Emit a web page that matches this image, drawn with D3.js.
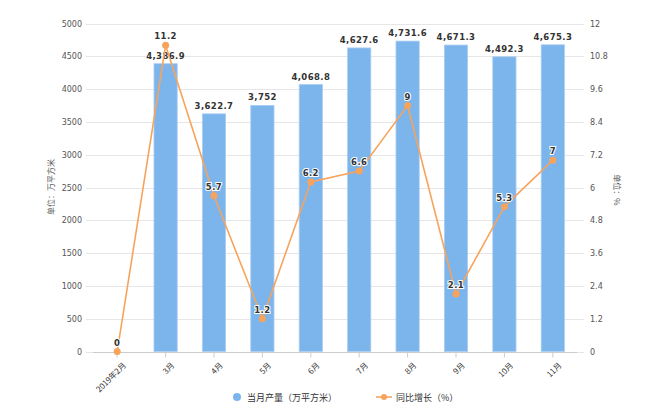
<!DOCTYPE html>
<html>
<head>
<meta charset="utf-8">
<script src="https://cdn.jsdelivr.net/npm/d3@7"></script>
<style>
  html, body { margin: 0; padding: 0; background: #fff; }
  svg { display: block; font-family: "DejaVu Sans", "Noto Sans CJK SC", sans-serif; }
</style>
</head>
<body>
<svg id="chart" width="650" height="420"></svg>
<script>
const categories = ["2019年2月", "3月", "4月", "5月", "6月", "7月", "8月", "9月", "10月", "11月"];
const output = [null, 4386.9, 3622.7, 3752, 4068.8, 4627.6, 4731.6, 4671.3, 4492.3, 4675.3];
const growth = [0, 11.2, 5.7, 1.2, 6.2, 6.6, 9, 2.1, 5.3, 7];
const leftTicks = [0, 500, 1000, 1500, 2000, 2500, 3000, 3500, 4000, 4500, 5000];
const rightTicks = [0, 1.2, 2.4, 3.6, 4.8, 6, 7.2, 8.4, 9.6, 10.8, 12];
const seriesNames = ["当月产量（万平方米）", "同比增长（%）"];
const axisTitles = ["单位：万平方米", "单位：%"];

const barColor = "#7cb5ec";
const lineColor = "#f7a35c";
const cjk = "'Noto Sans CJK SC', 'DejaVu Sans', sans-serif";

const svg = d3.select("#chart");
const m = { left: 93, right: 577, top: 23.5, bottom: 351.5 };

const x = d3.scaleBand().domain(categories).range([m.left, m.right]).paddingInner(0.52).paddingOuter(0.26);
const xc = d => x(d) + x.bandwidth() / 2;
const yL = d3.scaleLinear().domain([0, 5000]).range([m.bottom, m.top]);
const yR = d3.scaleLinear().domain([0, 12]).range([m.bottom, m.top]);

// gridlines
svg.append("g").selectAll("line").data(leftTicks.slice(1)).join("line")
  .attr("x1", m.left - 7).attr("x2", m.right + 7)
  .attr("y1", d => Math.round(yL(d)) + 0.5).attr("y2", d => Math.round(yL(d)) + 0.5)
  .attr("stroke", "#e6e6e6").attr("stroke-width", 1);
svg.append("line").attr("x1", m.left - 7).attr("x2", m.left)
  .attr("y1", Math.round(m.bottom) + 0.5).attr("y2", Math.round(m.bottom) + 0.5).attr("stroke", "#e6e6e6");
svg.append("line").attr("x1", m.right).attr("x2", m.right + 7)
  .attr("y1", Math.round(m.bottom) + 0.5).attr("y2", Math.round(m.bottom) + 0.5).attr("stroke", "#e6e6e6");

// left axis labels
const leftAxis = d3.axisLeft(yL).tickValues(leftTicks).tickSize(0).tickPadding(11).tickFormat(d3.format("d"));
const gl = svg.append("g").attr("transform", `translate(${m.left},0)`).call(leftAxis);
gl.select(".domain").remove();
gl.selectAll("text").attr("fill", "#555").attr("font-size", 8).attr("font-family", "'DejaVu Sans', sans-serif");

// right axis labels
const rightAxis = d3.axisRight(yR).tickValues(rightTicks).tickSize(0).tickPadding(13).tickFormat(d => d3.format("~g")(d));
const gr = svg.append("g").attr("transform", `translate(${m.right},0)`).call(rightAxis);
gr.select(".domain").remove();
gr.selectAll("text").attr("fill", "#555").attr("font-size", 8).attr("font-family", "'DejaVu Sans', sans-serif");

// bars
svg.append("g").selectAll("rect").data(categories.map((c, i) => ({ c, v: output[i] })).filter(d => d.v != null))
  .join("rect")
  .attr("x", d => x(d.c)).attr("width", x.bandwidth())
  .attr("y", d => yL(d.v)).attr("height", d => m.bottom - yL(d.v))
  .attr("fill", barColor).attr("stroke", "#a9cdf2").attr("stroke-width", 0.8);

// x axis
const xAxis = d3.axisBottom(x).tickSize(5).tickSizeOuter(0).tickPadding(3);
const gx = svg.append("g").attr("transform", `translate(0,${Math.round(m.bottom) + 0.5})`).call(xAxis);
gx.select(".domain").attr("stroke", "#ccc").attr("d", `M${m.left},0H${m.right}`);
gx.selectAll(".tick line").attr("stroke", "#ccc");
gx.selectAll("text")
  .attr("font-size", 8).attr("fill", "#333").attr("font-family", cjk)
  .attr("text-anchor", "end").attr("dy", "0.3em")
  .attr("transform", "translate(2,6) rotate(-45)");

// bar labels
svg.append("g").selectAll("text").data(categories.map((c, i) => ({ c, v: output[i] })).filter(d => d.v != null))
  .join("text")
  .attr("x", d => xc(d.c)).attr("y", d => yL(d.v) - 5)
  .attr("text-anchor", "middle").attr("font-size", 8.5).attr("font-weight", "bold")
  .attr("letter-spacing", 0.4).attr("fill", "#333")
  .attr("stroke", "#fff").attr("stroke-width", 2).attr("paint-order", "stroke")
  .text(d => d3.format(",")(d.v));

// line
const line = d3.line().x((d, i) => xc(categories[i])).y(d => yR(d));
svg.append("path").datum(growth).attr("d", line)
  .attr("fill", "none").attr("stroke", lineColor).attr("stroke-width", 1.6);
svg.append("g").selectAll("circle").data(growth).join("circle")
  .attr("cx", (d, i) => xc(categories[i])).attr("cy", d => yR(d)).attr("r", 3.5)
  .attr("fill", lineColor);
svg.append("g").selectAll("text").data(growth).join("text")
  .attr("x", (d, i) => xc(categories[i])).attr("y", d => yR(d) - 6)
  .attr("text-anchor", "middle").attr("font-size", 8.5).attr("font-weight", "bold")
  .attr("letter-spacing", 0.4).attr("fill", "#333")
  .attr("stroke", "#fff").attr("stroke-width", 2).attr("paint-order", "stroke")
  .text(d => d3.format("~g")(d));

// axis titles
svg.append("text").attr("transform", "translate(54,187) rotate(-90)")
  .attr("text-anchor", "middle").attr("font-size", 8).attr("fill", "#555").attr("font-family", cjk)
  .text(axisTitles[0]);
svg.append("text").attr("transform", "translate(614,190) rotate(90)")
  .attr("text-anchor", "middle").attr("font-size", 8).attr("fill", "#555").attr("font-family", cjk)
  .text(axisTitles[1]);

// legend
const lg = svg.append("g").attr("font-family", cjk).attr("font-size", 9).attr("fill", "#333");
lg.append("circle").attr("cx", 237).attr("cy", 397).attr("r", 4).attr("fill", barColor);
lg.append("text").attr("x", 247).attr("y", 400.5).text(seriesNames[0]);
lg.append("line").attr("x1", 376).attr("x2", 392).attr("y1", 397).attr("y2", 397).attr("stroke", lineColor).attr("stroke-width", 1.6);
lg.append("circle").attr("cx", 384).attr("cy", 397).attr("r", 3).attr("fill", lineColor);
lg.append("text").attr("x", 396).attr("y", 400.5).text(seriesNames[1]);
</script>
</body>
</html>
